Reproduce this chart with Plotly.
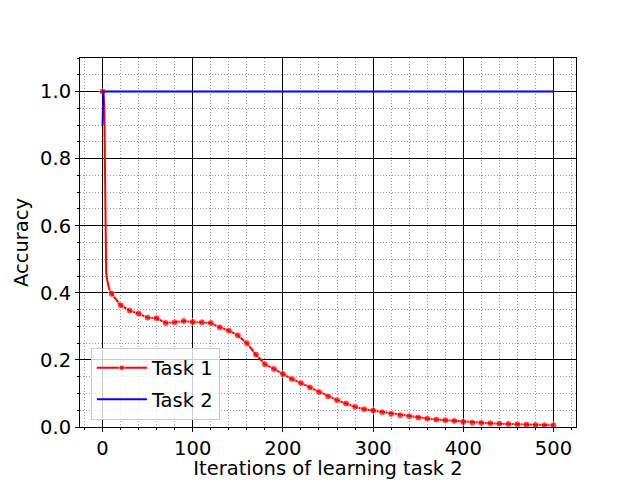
import plotly.graph_objs as go

# task 1 accuracy (dense at the start, every 10 iterations after)
task1_iters = [0, 1, 2, 3, 4, 5, 6, 7, 8, 9,
               10, 20, 30, 40, 50, 60, 70, 80, 90, 100,
               110, 120, 130, 140, 150, 160, 170, 180, 190, 200,
               210, 220, 230, 240, 250, 260, 270, 280, 290, 300,
               310, 320, 330, 340, 350, 360, 370, 380, 390, 400,
               410, 420, 430, 440, 450, 460, 470, 480, 490, 500]
task1_acc = [1.0, 0.995, 0.95, 0.56, 0.46, 0.44, 0.425, 0.415, 0.408, 0.402,
             0.397, 0.363, 0.347, 0.338, 0.326, 0.324, 0.310, 0.312, 0.316, 0.313,
             0.312, 0.310, 0.297, 0.287, 0.273, 0.250, 0.216, 0.187, 0.173, 0.158,
             0.143, 0.131, 0.118, 0.104, 0.091, 0.080, 0.070, 0.060, 0.053, 0.049,
             0.044, 0.039, 0.035, 0.032, 0.028, 0.025, 0.022, 0.020, 0.018, 0.015,
             0.013, 0.012, 0.011, 0.010, 0.009, 0.008, 0.007, 0.006, 0.005, 0.005]

# task 2 accuracy
task2_iters = [0, 1, 500]
task2_acc = [0.9, 1.0, 1.0]

# markers only every 10 iterations
marker_sizes = [7 if i % 10 == 0 else 0 for i in task1_iters]

font = dict(family="DejaVu Sans", size=19.5, color="black")

task1 = go.Scatter(x=task1_iters, y=task1_acc, mode="lines+markers", name="Task 1",
                   legendgroup="t1",
                   line=dict(color="red", width=2),
                   marker=dict(color="red", size=marker_sizes))
task2 = go.Scatter(x=task2_iters, y=task2_acc, mode="lines", name="Task 2",
                   legendgroup="t2",
                   line=dict(color="blue", width=2))

fig = go.Figure(data=[task1, task2])

# page body has an 8px margin, so the figure is 8px smaller than the window
fig.update_layout(
    width=632, height=472,
    margin=dict(l=72, r=64, t=50, b=53),
    paper_bgcolor="white", plot_bgcolor="white",
    font=font,
    showlegend=True,
    legend=dict(x=0.022, y=0.02, xanchor="left", yanchor="bottom",
                bgcolor="rgba(255,255,255,0.8)", bordercolor="#cccccc", borderwidth=1,
                font=font, tracegroupgap=3, itemwidth=50),
)

minor_grid = dict(ticks="outside", ticklen=2, tickcolor="black",
                  showgrid=True, gridcolor="#999999", griddash="1px,2px", gridwidth=1)

fig.update_xaxes(
    range=[-25, 525], dtick=100, tick0=0, automargin=False,
    tickfont=font,
    showline=True, linecolor="black", linewidth=1, mirror=True,
    ticks="outside", ticklen=4, tickcolor="black",
    showgrid=True, gridcolor="black", gridwidth=1, zeroline=False,
    minor=dict(dtick=20, tick0=0, **minor_grid),
    title=dict(text="Iterations of learning task 2", font=font, standoff=6),
)
fig.update_yaxes(
    range=[0, 1.1], dtick=0.2, tick0=0, tickformat=".1f", automargin=False,
    tickfont=font,
    showline=True, linecolor="black", linewidth=1, mirror=True,
    ticks="outside", ticklen=4, tickcolor="black",
    showgrid=True, gridcolor="black", gridwidth=1, zeroline=False,
    minor=dict(dtick=0.05, tick0=0, **minor_grid),
    title=dict(text="Accuracy", font=font, standoff=6),
)

fig.write_html("out.html")
